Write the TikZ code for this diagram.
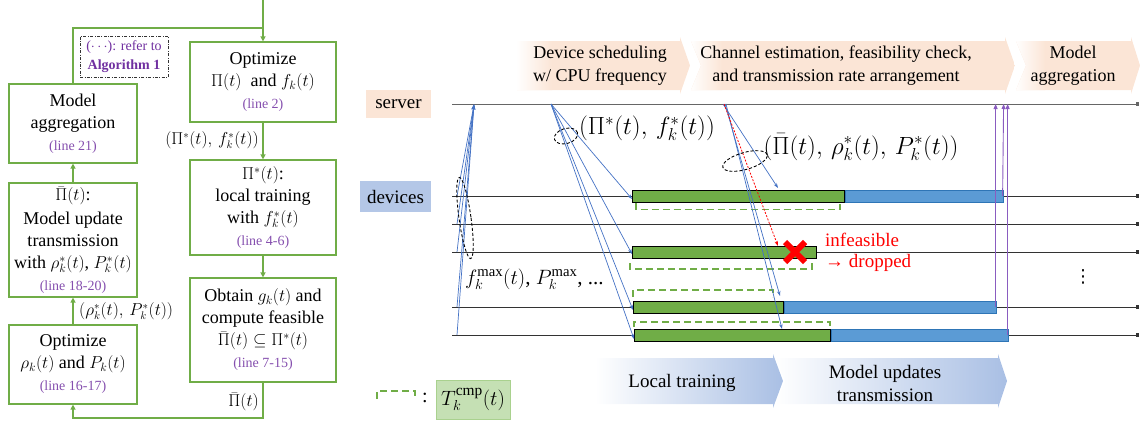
\documentclass[tikz,border=0pt]{standalone}
\usepackage{fontspec}
\setmainfont{Liberation Serif}
\newfontfamily\dejavu{DejaVu Sans}
\usetikzlibrary{arrows.meta,calc}
\definecolor{fcgreen}{HTML}{70AD47}
\definecolor{algpurple}{HTML}{7030A0}
\definecolor{linepurple}{HTML}{8A5CC0}
\definecolor{peach}{HTML}{FBE5D6}
\definecolor{lblue}{HTML}{B4C7E7}
\definecolor{cblue}{HTML}{A9BFE4}
\definecolor{barblue}{HTML}{5B9BD5}
\definecolor{barblueedge}{HTML}{2E75B6}
\definecolor{arrblue}{HTML}{4472C4}
\definecolor{legfill}{HTML}{C5E0B4}
\definecolor{legedge}{HTML}{A9D18E}
\newcommand{\fsz}[2]{\fontsize{#1}{#2}\selectfont}
\newcommand{\lin}[1]{{\fsz{14}{18}\color{algpurple!85}#1}}
\tikzset{
  fcbox/.style={draw=fcgreen, line width=1.2pt, align=center, inner sep=0pt, font=\fsz{18}{22}},
  fcline/.style={draw=fcgreen, line width=1.4pt},
  fcarrow/.style={fcline, -{Triangle[length=5pt,width=5pt]}},
  tline/.style={draw=black!80, line width=0.9pt, -{Square[length=3pt,width=3.5pt]}},
  gbar/.style={draw=black, line width=0.9pt, fill=fcgreen, minimum height=12pt, inner sep=0pt, anchor=west},
  bbar/.style={draw=barblueedge, line width=0.6pt, fill=barblue, minimum height=12pt, inner sep=0pt, anchor=west},
  barr/.style={draw=arrblue, line width=0.7pt, -{Stealth[length=5pt,width=3.5pt]}},
  parr/.style={draw=linepurple, line width=0.9pt, -{Triangle[length=5pt,width=4pt]}},
  dbr/.style={draw=fcgreen, line width=1.5pt, dash pattern=on 7pt off 4pt},
  dell/.style={draw=black, line width=0.9pt, dash pattern=on 3pt off 2pt},
}
\begin{document}
\begin{tikzpicture}[x=1pt,y=-1pt]
\useasboundingbox (0,0) rectangle (1140,424);

% ---------------- flowchart ----------------
\node[fcbox, minimum width=146pt, minimum height=80pt] (opt1) at (263,82)
  {Optimize\\$\Pi(t)$ \ and $f_k(t)$\\\lin{(line 2)}};
\node[fcbox, minimum width=146pt, minimum height=95pt] (train) at (263,207.5)
  {$\Pi^*(t)$:\\local training\\with $f_k^*(t)$\\\lin{(line 4-6)}};
\node[fcbox, minimum width=146pt, minimum height=104pt] (obtain) at (263,330)
  {Obtain $g_k(t)$ and\\compute feasible\\$\bar{\Pi}(t)\subseteq\Pi^*(t)$\\\lin{(line 7-15)}};
\node[fcbox, minimum width=128pt, minimum height=79pt] (agg) at (73,123.5)
  {Model\\aggregation\\\lin{(line 21)}};
\node[fcbox, minimum width=128pt, minimum height=114pt] (trans) at (73,240)
  {$\bar{\Pi}(t)$:\\[2pt]Model update\\transmission\\with $\rho_k^*(t)$, $P_k^*(t)$\\\lin{(line 18-20)}};
\node[fcbox, minimum width=128pt, minimum height=79pt] (optr) at (73,364.5)
  {Optimize\\$\rho_k(t)$ and $P_k(t)$\\\lin{(line 16-17)}};
\node[draw=black!80, line width=0.8pt, dash pattern=on 3pt off 1.5pt on 0.8pt off 1.5pt,
  minimum width=88pt, minimum height=41pt, align=center, inner sep=0pt,
  font=\fsz{14}{19}, text=algpurple] (note) at (124,56.5)
  {($\cdots$): refer to\\\textbf{Algorithm 1}};

\coordinate (top) at (263,0);
\coordinate (j) at (263,28);
\coordinate (bot) at (263,418);
\draw[fcarrow] (top) -- (opt1.north);
\draw[fcline] (agg.north) |- (j);
\draw[fcarrow] (opt1.south) -- (train.north);
\draw[fcarrow] (train.south) -- (obtain.north);
\draw[fcarrow] (obtain.south) -- (bot) -| (optr.south);
\draw[fcarrow] (optr.north) -- (trans.south);
\draw[fcarrow] (trans.north) -- (agg.south);

\node[font=\fsz{16}{18}, anchor=east, inner sep=0pt] (l1) at (259,140) {$\bigl(\Pi^*(t),\, f_k^*(t)\bigr)$};
\node[font=\fsz{16}{18}, anchor=west, inner sep=0pt] (l2) at (79,311) {$\bigl(\rho_k^*(t),\, P_k^*(t)\bigr)$};
\node[font=\fsz{17}{18}, anchor=east, inner sep=0pt] (l3) at (259,402) {$\bar{\Pi}(t)$};

% ---------------- phase chevrons ----------------
\newcommand{\chevA}{(517,41) -- (680,41) -- (680,37) -- (690,65.5) -- (680,94) -- (680,90) -- (517,90) -- cycle}
\newcommand{\chevB}{(691,41) -- (1005,41) -- (1005,37) -- (1015,65.5) -- (1005,94) -- (1005,90) -- (691,90) -- (701,65.5) -- cycle}
\newcommand{\chevC}{(1016,41) -- (1131,41) -- (1131,37) -- (1140,65.5) -- (1131,94) -- (1131,90) -- (1016,90) -- (1026,65.5) -- cycle}
\begin{scope}
  \clip \chevA; \fill[peach] (517,36) rectangle (690,95);
  \shade[left color=white, right color=peach] (516,36) rectangle (552,95);
\end{scope}
\begin{scope}
  \clip \chevB; \fill[peach] (690,36) rectangle (1015,95);
  \shade[left color=white, right color=peach] (690,36) rectangle (722,95);
\end{scope}
\begin{scope}
  \clip \chevC; \fill[peach] (1015,36) rectangle (1140,95);
  \shade[left color=white, right color=peach] (1015,36) rectangle (1045,95);
\end{scope}
\node[align=center, font=\fsz{18}{23}] (p1) at (600,66) {Device scheduling\\w/ CPU frequency};
\node[align=center, font=\fsz{18}{23}] (p2) at (836,66) {Channel estimation, feasibility check,\\and transmission rate arrangement};
\node[align=center, font=\fsz{18}{23}] (p3) at (1073,66) {Model\\aggregation};

\shade[left color=white, right color=cblue] (595,358) -- (773,358) -- (773,354) -- (783,381) -- (773,408) -- (773,404) -- (595,404) -- cycle;
\shade[left color=white, right color=cblue] (775,358) -- (998,358) -- (998,354) -- (1007,381) -- (998,408) -- (998,404) -- (775,404) -- (785,381) -- cycle;
\node[font=\fsz{19}{23}] (q1) at (682,383) {Local training};
\node[align=center, font=\fsz{19}{23}] (q2) at (885,383) {Model updates\\transmission};

% ---------------- labels ----------------
\node[fill=peach, minimum width=65pt, minimum height=28pt, inner sep=0pt, font=\fsz{19}{21}] (srv) at (398.5,104) {server};
\node[fill=lblue, minimum width=71pt, minimum height=31pt, inner sep=0pt, font=\fsz{19}{21}] (dev) at (395.5,196.5) {devices};

% ---------------- timelines ----------------
\coordinate (s0) at (452,104); \coordinate (s1) at (1139,104);
\draw[tline, draw=black!60] (s0) -- (s1);
\foreach \r/\y in {1/196,2/224,3/252,4/307,5/335}{
  \coordinate (r\r) at (452,\y);
  \coordinate (e\r) at (1139,\y);
  \draw[tline] (r\r) -- (e\r);
}
\node[gbar, minimum width=212pt] (g1) at (632,196) {};
\node[bbar, minimum width=158pt] (b1) at (845,196) {};
\node[gbar, minimum width=184pt] (g2) at (632,252) {};
\node[gbar, minimum width=150pt] (g3) at (633,307) {};
\node[bbar, minimum width=212pt] (b3) at (784,307) {};
\node[gbar, minimum width=196pt] (g4) at (634,335) {};
\node[bbar, minimum width=177pt] (b4) at (831,335) {};

% dashed brackets
\draw[dbr] (636,203) -- (636,209.5) -- (840,209.5) -- (840,203);
\draw[dbr] (630,263) -- (630,269) -- (812,269) -- (812,263);
\draw[dbr] (633,297) -- (633,290) -- (773,290) -- (773,297);
\draw[dbr] (634,327) -- (634,322) -- (830,322) -- (830,327);

% upward arrows (device info to server)
\coordinate (up) at (474,104.5);
\foreach \r in {1,2,3,4,5}{
  \draw[barr] ($(r\r)+(5,0)$) -- (up);
}
\draw[dell, rotate around={8:(465,218)}] (465,218) ellipse [x radius=6pt, y radius=41pt];
\node[font=\fsz{21}{23}, anchor=west, inner sep=0pt] (fmax) at (465,279) {$f_k^{\max}(t)$, $P_k^{\max}$, ...};

% downward arrows group 1
\coordinate (d1) at (551,104);
\draw[barr] (d1) -- ([yshift=-3pt]g1.west);
\draw[barr] (d1) -- ([yshift=-2pt]g2.west);
\draw[barr] (d1) -- ([yshift=-3pt]g3.west);
\draw[barr] (d1) -- ([yshift=-4pt]g4.west);
\draw[dell, rotate around={16:(566,136)}] (566,136) ellipse [x radius=12pt, y radius=7.5pt];
\node[font=\fsz{25}{27}, inner sep=0pt] (lab1) at (647,128) {$\bigl(\Pi^*(t),\, f_k^*(t)\bigr)$};

% downward arrows group 2
\coordinate (d2) at (723,104);
\coordinate (t1) at (778,188);
\coordinate (t2) at (778,246);
\coordinate (t3) at (780,296);
\coordinate (t4) at (782,329);
\draw[barr] (d2) -- (t1);
\draw[barr] ($(d2)+(2,0)$) -- (t3);
\draw[barr] ($(d2)+(3,0)$) -- (t4);
\draw[draw=red, line width=0.8pt, dash pattern=on 2pt off 1.5pt, -{Stealth[length=5pt,width=3.5pt]}] ($(d2)+(1,0)$) -- (t2);
\draw[dell, rotate around={16:(745,161)}] (745,161) ellipse [x radius=23pt, y radius=8.5pt];
\node[font=\fsz{24}{26}, inner sep=0pt] (lab2) at (861,147) {$\bigl(\bar{\Pi}(t),\, \rho_k^*(t),\, P_k^*(t)\bigr)$};

% infeasible mark
\draw[red, line width=6pt] (785,242) -- (805,262) (785,262) -- (805,242);
\node[text=red, font=\fsz{19}{21}, anchor=west, inner sep=0pt] (inf) at (825,240) {infeasible};
\node[text=red, font=\fsz{19}{21}, anchor=west, inner sep=0pt] (drp) at (825,263) {→ dropped};

% purple arrows (model updates to server)
\draw[parr] ([xshift=-1pt]b1.east) -- (b1.east |- s0);
\draw[parr] ([xshift=-1pt]b3.east) -- ([xshift=-1pt]b3.east |- s0);
\draw[parr] ([xshift=-1pt]b4.east) -- ([xshift=-1pt]b4.east |- s0);

\node[font=\fsz{18}{20}, inner sep=0pt] (vd) at (1083,277) {\dejavu ⋮};

% legend
\draw[dbr] (377,399) -- (377,391) -- (415,391) -- (415,399);
\node[font=\fsz{20}{22}, inner sep=0pt] (colon) at (425,398) {:};
\node[fill=legfill, draw=legedge, line width=0.8pt, minimum width=74pt, minimum height=39pt, inner sep=0pt, font=\fsz{22}{24}] (leg) at (473,399.5) {$T_k^{\mathrm{cmp}}(t)$};
\end{tikzpicture}
\end{document}
